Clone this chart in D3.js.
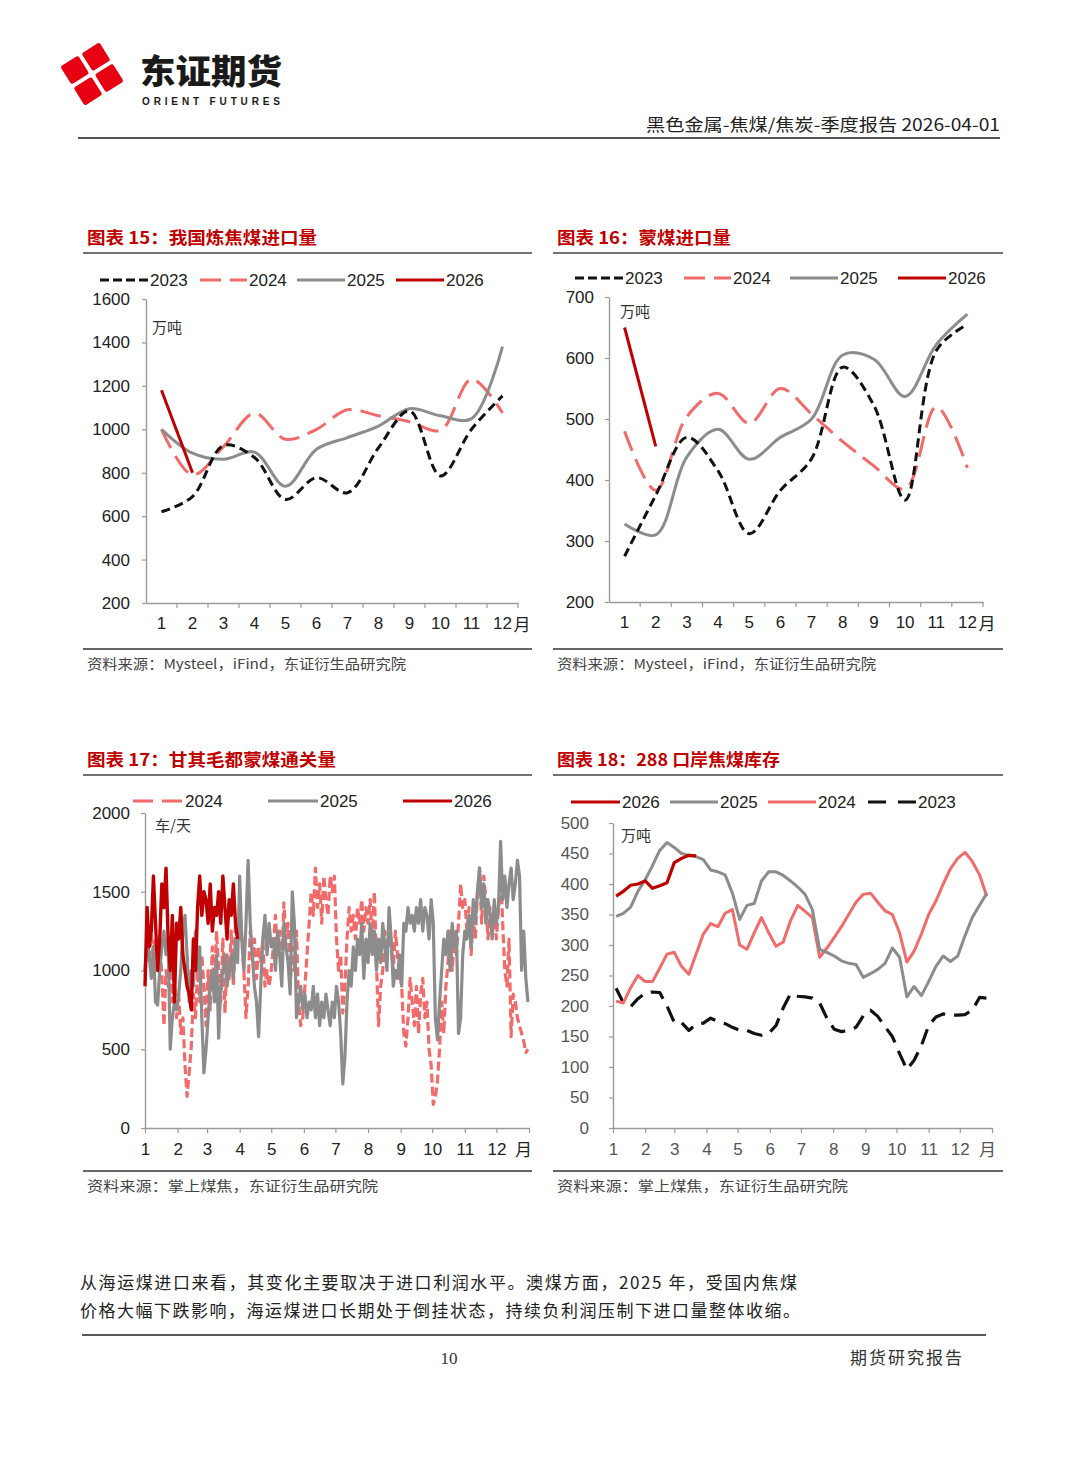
<!DOCTYPE html>
<html><head><meta charset="utf-8">
<script src="https://cdn.jsdelivr.net/npm/d3@7"></script>
<style>
body{margin:0;background:#fff;}
svg{display:block;}
</style></head><body>
<svg id="page" width="1080" height="1465"></svg>
<script>
// ---------------- DATA ----------------
const monthLabels = ["1","2","3","4","5","6","7","8","9","10","11","12"];

// 图表15 我国炼焦煤进口量 (万吨)
const c15Ticks = [200,400,600,800,1000,1200,1400,1600];
const c15_2023 = [620,690,925,870,677,777,708,915,1085,785,1000,1154];
const c15_2024 = [1000,790,920,1074,954,1000,1090,1062,1035,995,1231,1075];
const c15_2025 = [1000,890,862,895,738,908,962,1015,1095,1062,1049,1381];
const c15_2026 = [1180,800];

// 图表16 蒙煤进口量 (万吨)
const c16Ticks = [200,300,400,500,600,700];
const c16_2023 = [275,375,470,415,312,383,435,585,522,367,612,655];
const c16_2024 = [480,383,504,542,493,550,508,463,423,385,520,420];
const c16_2025 = [328,310,438,483,434,470,500,605,598,537,622,672];
const c16_2026 = [650,455];

// 图表17 甘其毛都蒙煤通关量 (车/天), one value every 2 days from Jan 1
const c17Ticks = [0,500,1000,1500,2000];
const c17_2024 = [
 1000,1180,1050,1230,1100,1200,1050,1150,980,650,1000,900,1100,800,950,700,
 850,600,700,400,200,350,520,850,700,1000,800,1100,900,650,
 1000,750,1150,900,1250,1000,800,1200,730,1100,950,1250,900,1300,1150,1420,
 1200,1000,700,900,1250,1100,1200,950,1150,1050,1200,900,1000,900,1000,
 1150,1350,1100,1250,1000,1430,1200,1300,900,1150,1000,1250,800,650,700,
 900,1100,1300,1500,1350,1650,1400,1550,1300,1600,1450,1350,1600,1500,1600,
 1200,1000,1100,730,900,1200,1400,1250,1350,1200,1400,1300,1450,1250,1400,1300,
 1450,1200,1500,1050,650,900,1000,1250,1050,1300,1150,1000,1250,1100,980,
 900,600,520,700,950,800,650,900,600,850,950,700,800,500,400,
 150,200,300,500,800,600,900,1050,1250,1000,1200,1100,1300,1550,1400,1450,
 1250,1400,1100,1350,1200,1500,1650,1300,1600,1450,1200,1400,1250,1350,1200,
 1400,1650,1300,1000,900,1200,580,850,800,700,650,600,550,480,500];
const c17_2025 = [
 1000,1200,1100,950,1150,800,780,1000,1150,1250,1100,1200,500,700,800,750,
 850,1000,1250,1350,1100,800,1000,900,1250,1000,1150,700,350,500,
 700,900,1000,800,1100,570,900,1000,1100,900,1000,1100,950,1200,1050,1600,
 1200,1000,1300,1700,1300,1100,900,800,580,900,1200,1350,1100,1300,1150,
 1200,1000,1250,1100,900,1300,1150,1050,850,1500,1300,700,800,900,750,
 850,700,800,750,900,700,850,650,800,700,850,750,650,800,700,
 900,800,600,280,450,800,1000,900,1150,1000,1200,1100,1300,950,1200,1050,
 1300,1100,1250,1000,1200,1050,1300,1150,1000,1400,1200,900,1000,950,1100,
 900,1300,1250,1400,1300,1350,1250,1400,1300,1450,1250,1400,1350,1200,1450,
 1300,700,560,800,1000,1200,1100,1250,1000,1300,1150,1250,600,700,1100,1250,
 1200,1350,1150,1450,1300,1500,1650,1400,1550,1300,1450,1350,1200,1450,1300,
 1400,1820,1450,1600,1400,1550,1650,1450,1550,1700,1600,1000,1250,950,800];
const c17_2026 = [
 900,1400,1150,1250,1600,1300,1000,1200,1550,1400,1650,1200,1000,1350,800,1300,
 1200,1400,1100,1000,900,850,750,1200,1000,1400,1600,1350,1500,1450,
 1300,1550,1250,1400,1350,1500,1300,1600,1400,1200,1450,1350,1550,1300,1200];

// 图表18 288口岸焦煤库存 (万吨), weekly
const c18Ticks = [0,50,100,150,200,250,300,350,400,450,500];
const c18_2023 = [229,205,199,212,221,223,222,200,173,173,160,170,172,180,175,171,165,160,160,155,152,155,168,197,220,216,215,213,205,180,162,158,160,165,184,193,183,166,150,122,96,111,135,168,182,187,185,185,186,193,214,213];
const c18_2024 = [208,205,230,250,240,240,262,285,288,265,252,285,318,335,330,352,358,300,293,320,345,320,298,305,340,365,355,345,280,295,312,330,350,370,383,385,370,356,350,320,272,290,318,350,372,400,425,442,452,437,415,380];
const c18_2025 = [347,352,362,388,407,430,455,468,460,450,447,445,440,423,420,415,385,342,365,368,405,420,420,414,405,395,383,358,293,288,282,274,270,268,247,253,260,270,295,280,215,232,217,240,265,282,273,282,315,345,365,385];
const c18_2026 = [380,388,398,400,405,393,397,402,435,442,447,446];

// ---------------- DRAW ----------------
const svg = d3.select("#page");
const NUM = "'Liberation Sans', Arial, sans-serif";
const CJK = "'Noto Sans CJK SC', sans-serif";
const RED = "#c00000", PINK = "#f26b6b", GRAY = "#8c8c8c", BLACK = "#111";
const fmt = d3.format("d");

// Header
const logo = svg.append("g").attr("transform","translate(92,74) rotate(-32)");
[[-23,-23],[2,-23],[-23,2],[2,2]].forEach(p=>{
  logo.append("rect").attr("x",p[0]).attr("y",p[1]).attr("width",21).attr("height",21).attr("rx",2).attr("fill","#e60012");
});
svg.append("text").attr("x",140).attr("y",84).attr("font-family",CJK).attr("font-weight",900)
  .attr("font-size",34).attr("fill","#1a1a1a").attr("textLength",142).attr("lengthAdjust","spacingAndGlyphs").text("东证期货");
svg.append("text").attr("x",142).attr("y",105).attr("font-family",NUM).attr("font-weight",700)
  .attr("font-size",10).attr("fill","#1a1a1a").attr("textLength",138).text("ORIENT FUTURES");
svg.append("text").attr("x",646).attr("y",131).attr("font-family",CJK)
  .attr("font-size",17).attr("fill","#222").attr("textLength",354).attr("lengthAdjust","spacingAndGlyphs").text("黑色金属-焦煤/焦炭-季度报告 2026-04-01");
svg.append("line").attr("x1",78).attr("x2",1000).attr("y1",138).attr("y2",138).attr("stroke","#555").attr("stroke-width",2);

function panelFrame(x0, x1, titleY, title, titleW, ruleY, source, sourceW){
  svg.append("text").attr("x",x0+4).attr("y",titleY+6).attr("font-family",CJK).attr("font-weight",700)
    .attr("font-size",17).attr("fill",RED).attr("textLength",titleW).attr("lengthAdjust","spacingAndGlyphs").text(title);
  svg.append("line").attr("x1",x0).attr("x2",x1).attr("y1",titleY+15).attr("y2",titleY+15).attr("stroke","#444").attr("stroke-width",1.5);
  svg.append("line").attr("x1",x0).attr("x2",x1).attr("y1",ruleY).attr("y2",ruleY).attr("stroke","#666").attr("stroke-width",2);
  svg.append("text").attr("x",x0+4).attr("y",ruleY+20).attr("font-family",CJK)
    .attr("font-size",13.5).attr("fill","#444").attr("textLength",sourceW).attr("lengthAdjust","spacingAndGlyphs").text(source);
}
panelFrame(83,532,238,"图表 15：我国炼焦煤进口量",230,649,"资料来源：Mysteel，iFind，东证衍生品研究院",319);
panelFrame(553,1003,238,"图表 16：蒙煤进口量",174,649,"资料来源：Mysteel，iFind，东证衍生品研究院",319);
panelFrame(83,532,760,"图表 17：甘其毛都蒙煤通关量",249,1171,"资料来源：掌上煤焦，东证衍生品研究院",291);
panelFrame(553,1003,760,"图表 18：288 口岸焦煤库存",223,1171,"资料来源：掌上煤焦，东证衍生品研究院",291);

function legendItem(x, y, w, color, dash, label, width){
  svg.append("line").attr("x1",x).attr("x2",x+w).attr("y1",y).attr("y2",y)
    .attr("stroke",color).attr("stroke-width",width||3.2).attr("stroke-dasharray",dash||null);
  svg.append("text").attr("x",x+w+2).attr("y",y+6).attr("font-family",NUM).attr("font-size",17).attr("fill","#222").text(label);
}
function unitLabel(x,y,t){
  svg.append("text").attr("x",x).attr("y",y+5).attr("font-family",CJK).attr("font-size",15).attr("fill","#333").text(t);
}
function styleAxis(g, color){
  g.selectAll("path.domain").attr("stroke","#9a9a9a").attr("stroke-width",1.4);
  g.selectAll(".tick line").attr("stroke","#9a9a9a").attr("stroke-width",1.2);
  g.selectAll("text").attr("font-family",NUM).attr("font-size",17).attr("fill",color||"#222");
}

// Monthly (band) chart
function monthlyChart(cfg){
  const x = d3.scaleBand().domain(monthLabels).range([cfg.L,cfg.R]);
  const y = d3.scaleLinear().domain([cfg.ticks[0], cfg.ticks[cfg.ticks.length-1]]).range([cfg.B,cfg.T]);
  const gy = svg.append("g").attr("transform",`translate(${cfg.L},0)`)
    .call(d3.axisLeft(y).tickValues(cfg.ticks).tickFormat(fmt).tickSize(4).tickSizeOuter(0).tickPadding(cfg.pad));
  styleAxis(gy);
  const gx = svg.append("g").attr("transform",`translate(0,${cfg.B})`)
    .call(d3.axisBottom(x).tickSize(0).tickSizeOuter(0).tickPadding(14));
  styleAxis(gx);
  gx.selectAll("line.bt").data(monthLabels).enter().append("line").attr("class","bt")
    .attr("x1",d=>x(d)+x.bandwidth()).attr("x2",d=>x(d)+x.bandwidth()).attr("y1",0).attr("y2",5)
    .attr("stroke","#9a9a9a").attr("stroke-width",1.2);
  svg.append("text").attr("x",x("12")+x.bandwidth()/2+11).attr("y",cfg.B+28).attr("font-family",CJK)
    .attr("font-size",17).attr("fill","#222").text("月");
  const line = d3.line().x((d,i)=>x(monthLabels[i])+x.bandwidth()/2).y(d=>y(d)).curve(d3.curveCatmullRom.alpha(0.5));
  cfg.series.forEach(s=>{
    svg.append("path").datum(s.values).attr("d",line).attr("fill","none").attr("stroke",s.color)
      .attr("stroke-width",s.w||3).attr("stroke-dasharray",s.dash||null).attr("stroke-linecap","butt");
  });
}

monthlyChart({L:146,R:518,T:299,B:603,pad:12,ticks:c15Ticks,series:[
  {values:c15_2024,color:PINK,dash:"21,9"},
  {values:c15_2025,color:GRAY},
  {values:c15_2023,color:BLACK,dash:"9,5"},
  {values:c15_2026,color:RED}]});
legendItem(100,280,48,BLACK,"9,4","2023");
legendItem(200,280,47,PINK,"21,9","2024");
legendItem(297,280,48,GRAY,null,"2025");
legendItem(396,280,48,RED,null,"2026");
unitLabel(152,328,"万吨");

monthlyChart({L:609,R:983,T:297,B:602,pad:11,ticks:c16Ticks,series:[
  {values:c16_2024,color:PINK,dash:"21,9"},
  {values:c16_2025,color:GRAY},
  {values:c16_2023,color:BLACK,dash:"9,5"},
  {values:c16_2026,color:RED}]});
legendItem(575,278,48,BLACK,"9,4","2023");
legendItem(684,278,47,PINK,"21,9","2024");
legendItem(790,278,48,GRAY,null,"2025");
legendItem(898,278,48,RED,null,"2026");
unitLabel(620,312,"万吨");

// Date-axis charts
const yearStart = new Date(2025,0,1), yearEnd = new Date(2026,0,1);
function dateChart(cfg){
  const x = d3.scaleTime().domain([yearStart,yearEnd]).range([cfg.L,cfg.R]);
  const y = d3.scaleLinear().domain([cfg.ticks[0], cfg.ticks[cfg.ticks.length-1]]).range([cfg.B,cfg.T]);
  const gy = svg.append("g").attr("transform",`translate(${cfg.L},0)`)
    .call(d3.axisLeft(y).tickValues(cfg.ticks).tickFormat(fmt).tickSize(4).tickSizeOuter(0).tickPadding(cfg.pad));
  styleAxis(gy, cfg.labelColor);
  const monthTicks = d3.timeMonth.range(yearStart, d3.timeDay.offset(yearEnd,1));
  const gx = svg.append("g").attr("transform",`translate(0,${cfg.B})`)
    .call(d3.axisBottom(x).tickValues(monthTicks).tickSize(5).tickSizeOuter(0).tickPadding(10)
      .tickFormat(d=> d.getFullYear()===2025 ? monthLabels[d.getMonth()] : ""));
  styleAxis(gx, cfg.labelColor);
  svg.append("text").attr("x",cfg.yue).attr("y",cfg.B+28).attr("font-family",CJK)
    .attr("font-size",17).attr("fill",cfg.labelColor||"#222").text("月");
  cfg.series.forEach(s=>{
    const line = d3.line().x((d,i)=>x(d3.timeDay.offset(yearStart, s.step*i + (s.off||0)))).y(d=>y(d));
    svg.append("path").datum(s.values).attr("d",line).attr("fill","none").attr("stroke",s.color)
      .attr("stroke-width",s.w||3).attr("stroke-dasharray",s.dash||null).attr("stroke-linejoin","round");
  });
}

dateChart({L:145,R:529,T:813,B:1128,pad:11,ticks:c17Ticks,yue:515,series:[
  {values:c17_2024,step:2,color:PINK,dash:"9,4",w:3.2},
  {values:c17_2025,step:2,color:GRAY,w:3.2},
  {values:c17_2026,step:2,color:RED,w:3.4}]});
legendItem(133,801,50,PINK,"20,9","2024");
legendItem(268,801,50,GRAY,null,"2025");
legendItem(403,801,49,RED,null,"2026");
unitLabel(155,826,"车/天");

dateChart({L:613,R:992,T:823,B:1128,pad:20,ticks:c18Ticks,yue:979,labelColor:"#555",series:[
  {values:c18_2023,step:7,off:3,color:BLACK,dash:"16,9",w:3.2},
  {values:c18_2024,step:7,off:3,color:PINK,w:3},
  {values:c18_2025,step:7,off:3,color:GRAY,w:3},
  {values:c18_2026,step:7,off:3,color:RED,w:3.2}]});
legendItem(571,802,49,RED,null,"2026");
legendItem(670,802,48,GRAY,null,"2025");
legendItem(768,802,48,PINK,null,"2024");
legendItem(868,802,48,BLACK,"18,12","2023");
unitLabel(621,836,"万吨");

// Body text & footer
svg.append("text").attr("x",80).attr("y",1289).attr("font-family",CJK).attr("font-size",17).attr("fill","#222")
  .attr("textLength",717).attr("lengthAdjust","spacing").text("从海运煤进口来看，其变化主要取决于进口利润水平。澳煤方面，2025 年，受国内焦煤");
svg.append("text").attr("x",80).attr("y",1317).attr("font-family",CJK).attr("font-size",17).attr("fill","#222")
  .attr("textLength",720).attr("lengthAdjust","spacing").text("价格大幅下跌影响，海运煤进口长期处于倒挂状态，持续负利润压制下进口量整体收缩。");
svg.append("line").attr("x1",82).attr("x2",986).attr("y1",1335).attr("y2",1335).attr("stroke","#222").attr("stroke-width",1.5);
svg.append("text").attr("x",449).attr("y",1364).attr("text-anchor","middle").attr("font-family","'Liberation Serif', serif")
  .attr("font-size",17).attr("fill","#333").text("10");
svg.append("text").attr("x",850).attr("y",1364).attr("font-family",CJK).attr("font-size",17).attr("fill","#333")
  .attr("textLength",112).attr("lengthAdjust","spacing").text("期货研究报告");
</script>
</body></html>
